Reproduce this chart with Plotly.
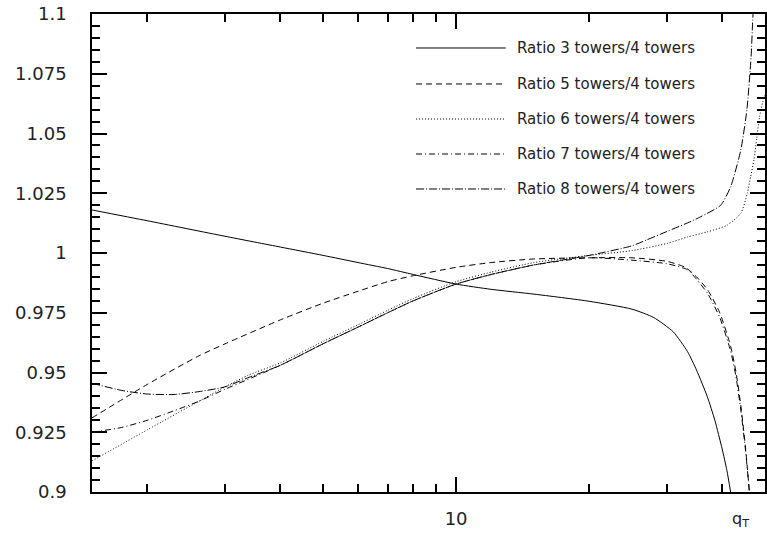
import plotly.graph_objects as go

# ---- data ----
x_r3 = [1.5, 2, 3, 4, 5, 6, 7, 8, 10, 12, 15, 20, 25, 28, 31, 33.4, 35, 37, 38.5, 40, 41, 41.8]
y_r3 = [1.018, 1.0135, 1.007, 1.0025, 0.999, 0.996, 0.9935, 0.991, 0.987, 0.9848, 0.9828, 0.9798, 0.9765,
        0.973, 0.967, 0.9587, 0.951, 0.940, 0.930, 0.918, 0.909, 0.900]

x_r5 = [1.5, 2, 2.62, 3, 4, 5, 6, 7, 8, 10, 12, 15, 20, 25, 30, 33, 35, 37.1, 39.5, 41.8, 43, 44.1, 45.2, 46.1]
y_r5 = [0.931, 0.945, 0.957, 0.962, 0.972, 0.979, 0.984, 0.988, 0.9905, 0.994, 0.996, 0.9975, 0.998, 0.998,
        0.9965, 0.994, 0.990, 0.9845, 0.975, 0.961, 0.950, 0.936, 0.918, 0.900]

x_r6 = [1.5, 2, 2.62, 3, 3.4, 4, 5, 6, 7, 8, 10, 12, 15, 20, 25, 30, 33.4, 37.1, 41.1, 44.1, 45.6, 46.4,
        47.2, 47.9, 48.6, 49.4, 50]
y_r6 = [0.913, 0.926, 0.938, 0.944, 0.949, 0.954, 0.963, 0.970, 0.976, 0.981, 0.988, 0.992, 0.996, 0.999,
        1.001, 1.004, 1.0067, 1.0089, 1.0117, 1.0167, 1.025, 1.032, 1.039, 1.048, 1.057, 1.063, 1.066]

x_r7 = [1.5, 1.75, 2, 2.3, 2.62, 3, 4, 5, 6, 7, 8, 10, 12, 15, 20, 25, 30, 33.4, 35, 37.1, 39.5, 41.8, 43,
        44.1, 45.2, 46.1]
y_r7 = [0.925, 0.927, 0.930, 0.934, 0.938, 0.943, 0.953, 0.962, 0.969, 0.975, 0.980, 0.987, 0.991, 0.995,
        0.998, 0.997, 0.9955, 0.993, 0.989, 0.983, 0.973, 0.959, 0.948, 0.934, 0.917, 0.900]

x_r8 = [1.5, 1.75, 2, 2.3, 2.62, 3, 3.4, 4, 5, 6, 7, 8, 10, 12, 15, 20, 25, 27, 30, 33.4, 35.8, 39.7, 41.8,
        44.06, 45.5, 46.5, 46.9, 47.1]
y_r8 = [0.9455, 0.9425, 0.941, 0.9408, 0.942, 0.944, 0.948, 0.953, 0.962, 0.969, 0.975, 0.980, 0.987,
        0.991, 0.995, 0.999, 1.003, 1.0055, 1.009, 1.0126, 1.0152, 1.020, 1.0277, 1.043, 1.060, 1.082,
        1.0975, 1.104]

series_names = ["Ratio 3 towers/4 towers", "Ratio 5 towers/4 towers", "Ratio 6 towers/4 towers",
                "Ratio 7 towers/4 towers", "Ratio 8 towers/4 towers"]
series_x = [x_r3, x_r5, x_r6, x_r7, x_r8]
series_y = [y_r3, y_r5, y_r6, y_r7, y_r8]
dashes = ["solid", "6px,4px", "1px,2px", "6px,3px,1px,3px", "8px,2px,1px,2px"]

y_tickvals = [0.9, 0.925, 0.95, 0.975, 1.0, 1.025, 1.05, 1.075, 1.1]
y_ticktext = ["0.9", "0.925", "0.95", "0.975", "1", "1.025", "1.05", "1.075", "1.1"]
x_tickvals = [10]
x_ticktext = ["10"]
x_minor_vals = [2, 3, 4, 5, 6, 7, 8, 9, 20, 30, 40]

FONT = "DejaVu Sans"
TXT = "#222222"

fig = go.Figure()
for xs, ys, nm, ds in zip(series_x, series_y, series_names, dashes):
    fig.add_trace(go.Scatter(x=xs, y=ys, mode="lines", name=nm, showlegend=False,
                             line=dict(color="black", width=1, dash=ds, shape="spline", smoothing=0.6)))

# legend drawn as sample lines + labels (paper coords)
leg_rows = [0.9289, 0.8536, 0.7803, 0.7071, 0.6339]
for yy, nm, ds in zip(leg_rows, series_names, dashes):
    fig.add_shape(type="line", xref="paper", yref="paper", x0=0.4815, x1=0.6148, y0=yy, y1=yy,
                  line=dict(color="black", width=1, dash=ds))
    fig.add_annotation(xref="paper", yref="paper", x=0.628, y=yy, text=nm, showarrow=False,
                       xanchor="left", yanchor="middle", font=dict(family=FONT, size=15, color=TXT))

fig.add_annotation(xref="paper", yref="paper", x=0.964, y=-0.058, text="q<sub>T</sub>", showarrow=False,
                   xanchor="center", yanchor="middle", font=dict(family=FONT, size=16, color=TXT))

fig.update_xaxes(type="log", range=[0.17609, 1.69897],
                 tickmode="array", tickvals=x_tickvals, ticktext=x_ticktext,
                 ticks="inside", ticklen=15, tickwidth=1.5, tickcolor="black",
                 minor=dict(tickmode="array", tickvals=x_minor_vals, ticks="inside", ticklen=8,
                            tickwidth=1.5, tickcolor="black", showgrid=False),
                 showline=True, linecolor="black", linewidth=1.5, mirror="ticks",
                 showgrid=False, zeroline=False, ticklabelstandoff=10,
                 tickfont=dict(family=FONT, size=18, color=TXT))
fig.update_yaxes(range=[0.9, 1.1], tickmode="array", tickvals=y_tickvals, ticktext=y_ticktext,
                 ticks="inside", ticklen=15, tickwidth=1.5, tickcolor="black",
                 minor=dict(dtick=0.005, tick0=0.9, ticks="inside", ticklen=8, tickwidth=1.5,
                            tickcolor="black", showgrid=False),
                 showline=True, linecolor="black", linewidth=1.5, mirror="ticks",
                 showgrid=False, zeroline=False, ticklabelstandoff=20,
                 tickfont=dict(family=FONT, size=18, color=TXT))

fig.update_layout(width=767, height=533, margin=dict(l=92, r=0, t=14, b=41),
                  paper_bgcolor="white", plot_bgcolor="white", showlegend=False)

fig.write_html("out.html")
